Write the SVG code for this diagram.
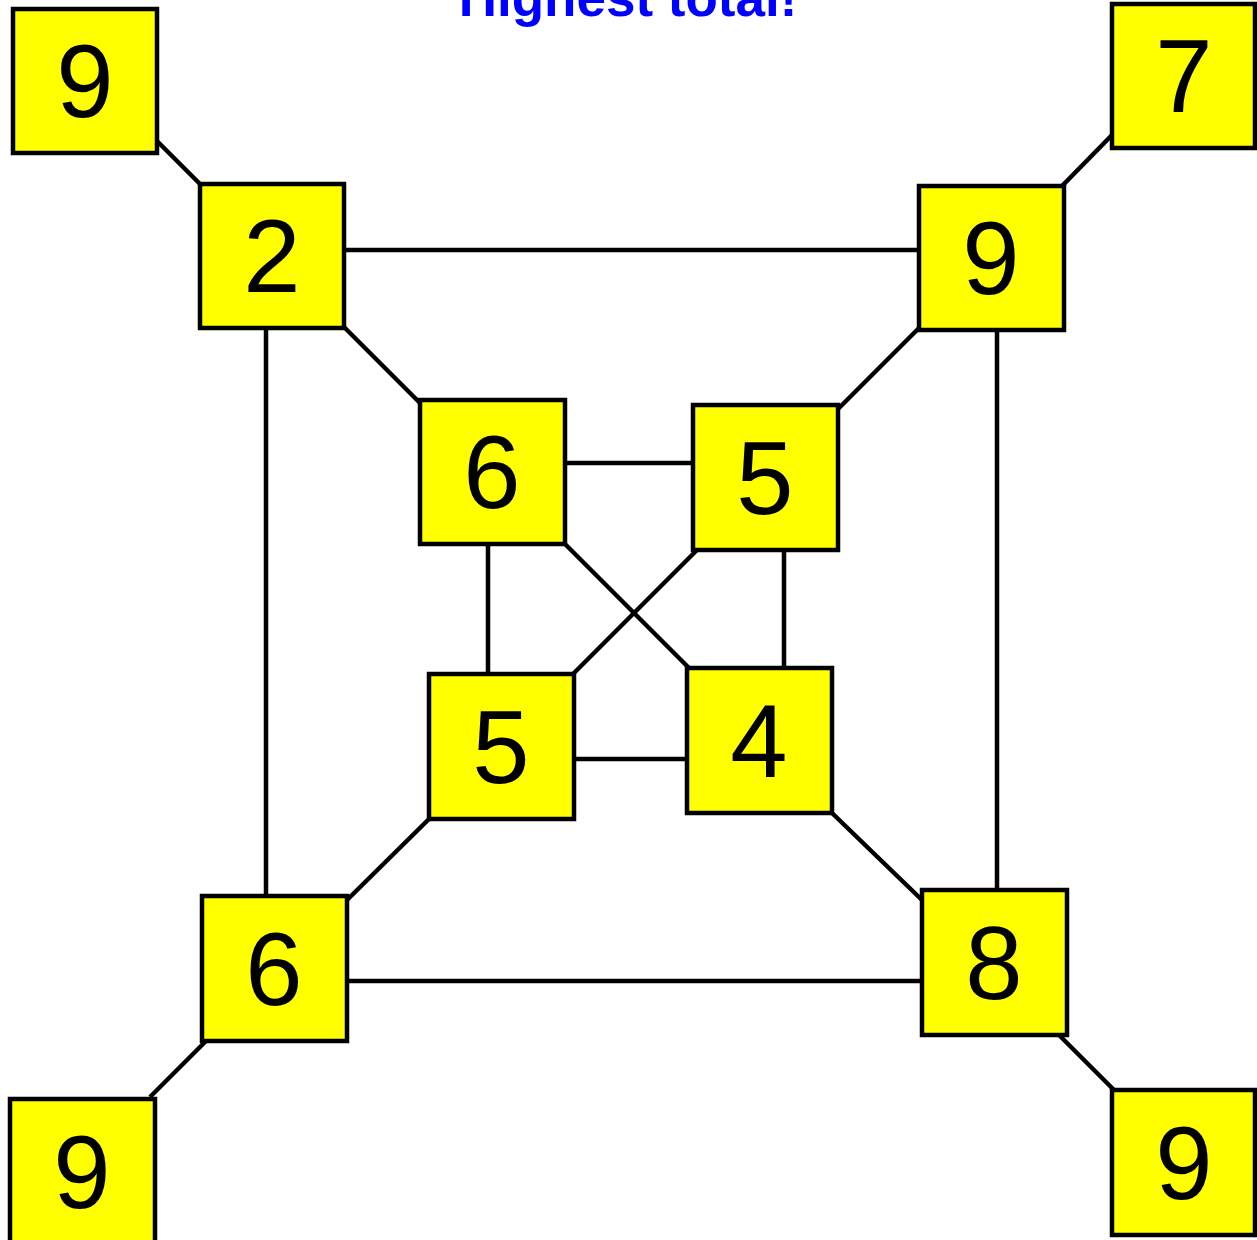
<svg xmlns="http://www.w3.org/2000/svg" width="1257" height="1240" viewBox="0 0 1257 1240">
<style>
.box{fill:#ffff00;stroke:#000;stroke-width:4.5}
.num{font-family:"Liberation Sans",Arial,sans-serif;font-size:103px;fill:#000;text-anchor:middle}
.edge{stroke:#000;stroke-width:4.5;fill:none}
.title{font-family:"Liberation Sans",Arial,sans-serif;font-size:53px;font-weight:bold;fill:#0000ff;text-anchor:middle}
</style>
<rect width="1257" height="1240" fill="#fff"/>
<text class="title" x="628" y="16">Highest total!</text>
<g id="edges">
<line class="edge" x1="157" y1="141" x2="200" y2="184"/>
<line class="edge" x1="344" y1="250" x2="919" y2="250"/>
<line class="edge" x1="266" y1="328" x2="266" y2="896"/>
<line class="edge" x1="344" y1="327" x2="420" y2="403"/>
<line class="edge" x1="1062" y1="186" x2="1112" y2="135"/>
<line class="edge" x1="919" y1="328" x2="838" y2="409"/>
<line class="edge" x1="997" y1="330" x2="997" y2="890"/>
<line class="edge" x1="565" y1="463" x2="693" y2="463"/>
<line class="edge" x1="488" y1="544" x2="488" y2="674"/>
<line class="edge" x1="565" y1="544" x2="689" y2="668"/>
<line class="edge" x1="697" y1="550" x2="573" y2="674"/>
<line class="edge" x1="784" y1="550" x2="784" y2="668"/>
<line class="edge" x1="574" y1="759" x2="687" y2="759"/>
<line class="edge" x1="429" y1="819" x2="347" y2="900"/>
<line class="edge" x1="832" y1="813" x2="922" y2="900"/>
<line class="edge" x1="347" y1="981" x2="922" y2="981"/>
<line class="edge" x1="206" y1="1041" x2="150" y2="1097"/>
<line class="edge" x1="1059" y1="1035" x2="1114" y2="1090"/>
</g>
<g id="n_tl9"><rect class="box" x="13" y="9" width="144" height="144"/><text class="num" x="85" y="117">9</text></g>
<g id="n_2"><rect class="box" x="200" y="184" width="144" height="144"/><text class="num" x="272" y="292">2</text></g>
<g id="n_tr7"><rect class="box" x="1112" y="4" width="143" height="144"/><text class="num" x="1184" y="112">7</text></g>
<g id="n_9r"><rect class="box" x="919" y="186" width="145" height="144"/><text class="num" x="991" y="294">9</text></g>
<g id="n_6i"><rect class="box" x="420" y="400" width="145" height="144"/><text class="num" x="492" y="508">6</text></g>
<g id="n_5tr"><rect class="box" x="693" y="405" width="145" height="145"/><text class="num" x="765" y="514">5</text></g>
<g id="n_5bl"><rect class="box" x="429" y="674" width="145" height="145"/><text class="num" x="501" y="783">5</text></g>
<g id="n_4"><rect class="box" x="687" y="668" width="145" height="145"/><text class="num" x="759" y="777">4</text></g>
<g id="n_6bl"><rect class="box" x="202" y="896" width="145" height="145"/><text class="num" x="274" y="1005">6</text></g>
<g id="n_8"><rect class="box" x="922" y="890" width="145" height="145"/><text class="num" x="994" y="999">8</text></g>
<g id="n_bl9"><rect class="box" x="10" y="1099" width="145" height="145"/><text class="num" x="82" y="1208">9</text></g>
<g id="n_br9"><rect class="box" x="1112" y="1090" width="143" height="145"/><text class="num" x="1184" y="1199">9</text></g>
</svg>
